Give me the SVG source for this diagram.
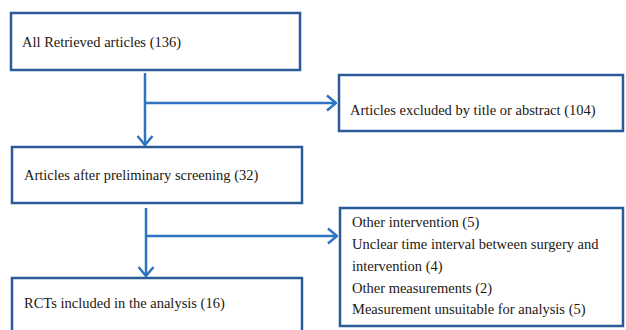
<svg xmlns="http://www.w3.org/2000/svg" width="626" height="330" viewBox="0 0 626 330">
<defs>
<style>
.box{fill:#ffffff;stroke:#2b5b97;stroke-width:2.5}
.t{font-family:"Liberation Serif","Times New Roman",serif;font-size:14.5px;fill:#231812}
.c{fill:none;stroke:#2f74c0;stroke-width:2.5}
</style>
<marker id="ah" viewBox="0 0 12 18" refX="11" refY="9" markerWidth="12" markerHeight="18" markerUnits="userSpaceOnUse" orient="auto">
<path d="M2,1.5 L11,9 L2,16.5" fill="none" stroke="#2f74c0" stroke-width="2.5"/>
</marker>
</defs>
<rect width="626" height="330" fill="#ffffff"/>
<g id="n1"><rect class="box" x="11" y="13" width="289" height="57"/><text class="t" x="22" y="47">All Retrieved articles (136)</text></g>
<g id="n2"><rect class="box" x="339" y="75" width="284" height="56"/><text class="t" x="350" y="115">Articles excluded by title or abstract (104)</text></g>
<g id="n3"><rect class="box" x="12" y="147" width="290" height="56"/><text class="t" x="24" y="180">Articles after preliminary screening (32)</text></g>
<g id="n4"><rect class="box" x="12" y="278" width="290" height="60"/><text class="t" x="24" y="308">RCTs included in the analysis (16)</text></g>
<g id="n5"><rect class="box" x="340" y="208" width="283" height="118"/>
<text class="t" x="352" y="227">Other intervention (5)</text>
<text class="t" x="352" y="249">Unclear time interval between surgery and</text>
<text class="t" x="352" y="271">intervention (4)</text>
<text class="t" x="352" y="293">Other measurements (2)</text>
<text class="t" x="352" y="314">Measurement unsuitable for analysis (5)</text>
</g>
<g id="connectors">
<path class="c" d="M145,73 V145" marker-end="url(#ah)"/>
<path class="c" d="M145,103 H336" marker-end="url(#ah)"/>
<path class="c" d="M146,208 V276" marker-end="url(#ah)"/>
<path class="c" d="M146,236 H337" marker-end="url(#ah)"/>
</g>
</svg>
